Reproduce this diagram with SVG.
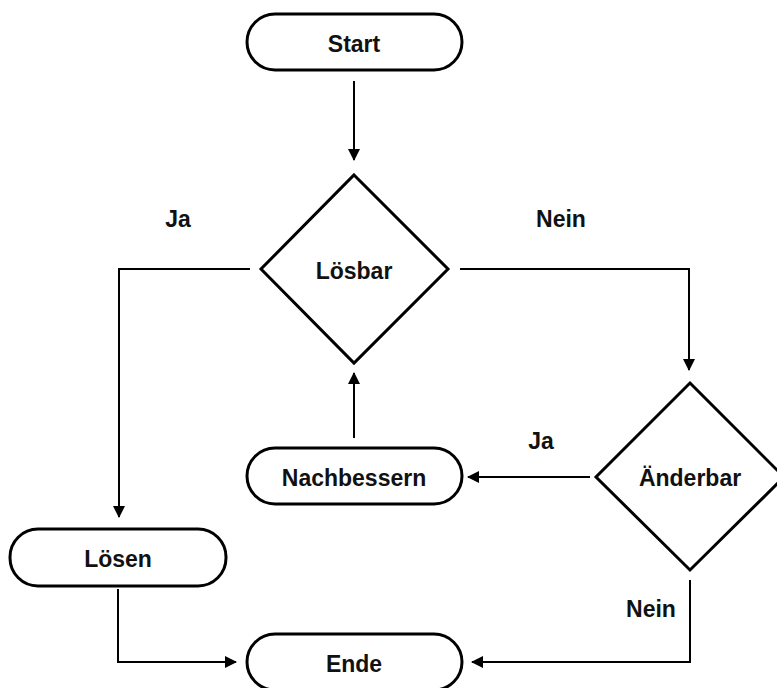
<svg xmlns="http://www.w3.org/2000/svg" width="777" height="688" viewBox="0 0 777 688">
  <style>
    .shape { fill: #ffffff; stroke: #000000; stroke-width: 3; }
    .edge { fill: none; stroke: #000000; stroke-width: 2; }
    .label { font-family: "Liberation Sans", Arial, Helvetica, sans-serif; font-weight: bold; font-size: 23px; fill: #111111; text-anchor: middle; dominant-baseline: central; }
  </style>
  <defs>
    <marker id="arrow" viewBox="0 0 12 12" refX="11" refY="6" markerWidth="12" markerHeight="12" markerUnits="userSpaceOnUse" orient="auto">
      <path d="M0,0 L12,6 L0,12 Z" fill="#000000"/>
    </marker>
  </defs>
  <rect width="777" height="688" fill="#ffffff"/>

  <g id="connectors">
    <path class="edge" d="M354,81 V160" marker-end="url(#arrow)"/>
    <path class="edge" d="M250,269 H119 V517" marker-end="url(#arrow)"/>
    <path class="edge" d="M460,269 H689 V370" marker-end="url(#arrow)"/>
    <path class="edge" d="M590,477 H468" marker-end="url(#arrow)"/>
    <path class="edge" d="M354,438 V373" marker-end="url(#arrow)"/>
    <path class="edge" d="M118,589 V662 H236" marker-end="url(#arrow)"/>
    <path class="edge" d="M690,580 V662 H472" marker-end="url(#arrow)"/>
    <text class="label" x="178" y="219">Ja</text>
    <text class="label" x="561" y="219">Nein</text>
    <text class="label" x="541" y="441">Ja</text>
    <text class="label" x="651" y="609">Nein</text>
  </g>

  <g id="start">
    <rect class="shape" x="247" y="14" width="215" height="56" rx="28"/>
    <text class="label" x="354" y="44">Start</text>
  </g>
  <g id="loesbar">
    <polygon class="shape" points="354,175 448,269 354,363 261,269"/>
    <text class="label" x="354" y="271">Lösbar</text>
  </g>
  <g id="aenderbar">
    <polygon class="shape" points="690,383 784,477 690,570 596,477"/>
    <text class="label" x="690" y="478">Änderbar</text>
  </g>
  <g id="nachbessern">
    <rect class="shape" x="247" y="448" width="215" height="56" rx="28"/>
    <text class="label" x="354" y="478">Nachbessern</text>
  </g>
  <g id="loesen">
    <rect class="shape" x="10" y="529" width="216" height="57" rx="28"/>
    <text class="label" x="118" y="559">Lösen</text>
  </g>
  <g id="ende">
    <rect class="shape" x="247" y="634" width="215" height="56" rx="28"/>
    <text class="label" x="354" y="664">Ende</text>
  </g>
</svg>
